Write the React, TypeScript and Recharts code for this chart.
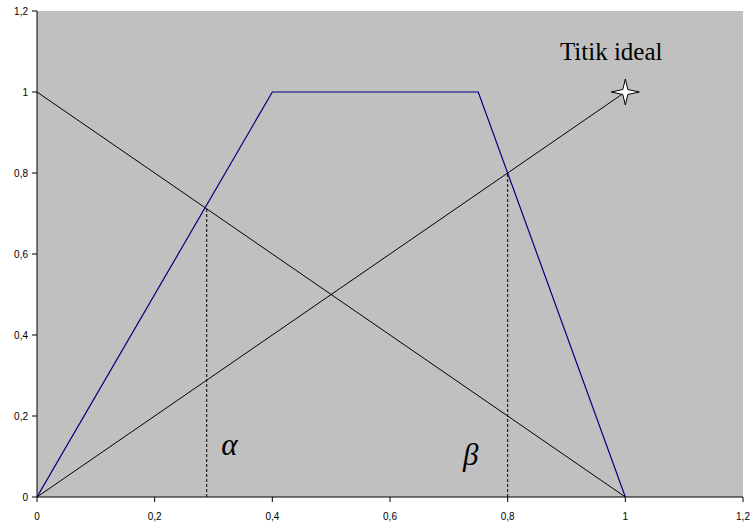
import React from 'react';
import { ComposedChart, Line, XAxis, YAxis, CartesianGrid, Scatter, ReferenceDot } from 'recharts';

const ticks = [0, 0.2, 0.4, 0.6, 0.8, 1, 1.2];
const trapezoid = [
  { x: 0, y: 0 },
  { x: 0.4, y: 1 },
  { x: 0.75, y: 1 },
  { x: 1, y: 0 },
];
const falling = [
  { x: 0, y: 1 },
  { x: 1, y: 0 },
];
const rising = [
  { x: 0, y: 0 },
  { x: 1, y: 1 },
];
const alphaCut = [
  { x: 0.2885, y: 0 },
  { x: 0.2885, y: 0.714 },
];
const betaCut = [
  { x: 0.8, y: 0 },
  { x: 0.8, y: 0.8 },
];
const idealPoint = [{ x: 1, y: 1 }];
const labels = [
  { x: 0.976, y: 1.1, text: 'Titik ideal', italic: false, size: 25 },
  { x: 0.327, y: 0.13, text: 'α', italic: true, size: 31 },
  { x: 0.737, y: 0.105, text: 'β', italic: true, size: 31 },
];

const fmt = (v: number) => String(v).replace('.', ',');

const Star = (props: any) => {
  const { cx, cy } = props;
  const rx = 14, ry = 13, i = 2.5;
  const d = `M${cx - rx},${cy} L${cx - i},${cy - i} L${cx},${cy - ry} L${cx + i},${cy - i} L${cx + rx},${cy} L${cx + i},${cy + i} L${cx},${cy + ry} L${cx - i},${cy + i} Z`;
  return <path d={d} fill="#fff" stroke="#000" strokeWidth={1} />;
};

export default function App() {
  return (
    <div style={{ position: 'absolute', left: 0, top: 0 }}>
      <ComposedChart width={751} height={524} margin={{ top: 11, right: 8, bottom: 0, left: 0 }}>
        <CartesianGrid fill="#C0C0C0" horizontal={false} vertical={false} />
        <XAxis
          type="number"
          dataKey="x"
          domain={[0, 1.2]}
          ticks={ticks}
          tickFormatter={fmt}
          height={27}
          tickSize={5}
          tickMargin={11}
          stroke="#000"
          tick={{ fill: '#000', fontSize: 10, fontFamily: 'Arial, Liberation Sans' }}
          allowDataOverflow
        />
        <YAxis
          type="number"
          dataKey="y"
          domain={[0, 1.2]}
          ticks={ticks}
          tickFormatter={fmt}
          width={37}
          tickSize={5}
          tickMargin={4}
          stroke="#000"
          tick={{ fill: '#000', fontSize: 10, fontFamily: 'Arial, Liberation Sans' }}
          allowDataOverflow
        />
        <Line data={alphaCut} dataKey="y" stroke="#000" strokeWidth={1} strokeDasharray="3 2" dot={false} isAnimationActive={false} />
        <Line data={betaCut} dataKey="y" stroke="#000" strokeWidth={1} strokeDasharray="3 2" dot={false} isAnimationActive={false} />
        <Line data={falling} dataKey="y" stroke="#000" strokeWidth={1} dot={false} isAnimationActive={false} />
        <Line data={rising} dataKey="y" stroke="#000" strokeWidth={1} dot={false} isAnimationActive={false} />
        <Line data={trapezoid} dataKey="y" stroke="#000080" strokeWidth={1.2} dot={false} isAnimationActive={false} />
        <Scatter data={idealPoint} dataKey="y" shape={<Star />} isAnimationActive={false} />
        {labels.map((l) => (
          <ReferenceDot
            key={l.text}
            x={l.x}
            y={l.y}
            r={0}
            shape={(p: any) => (
              <text
                x={p.cx}
                y={p.cy}
                textAnchor="middle"
                dominantBaseline="central"
                fontFamily="Liberation Serif, Times New Roman, serif"
                fontStyle={l.italic ? 'italic' : 'normal'}
                fontSize={l.size}
                fill="#000"
              >
                {l.text}
              </text>
            )}
          />
        ))}
      </ComposedChart>
    </div>
  );
}
